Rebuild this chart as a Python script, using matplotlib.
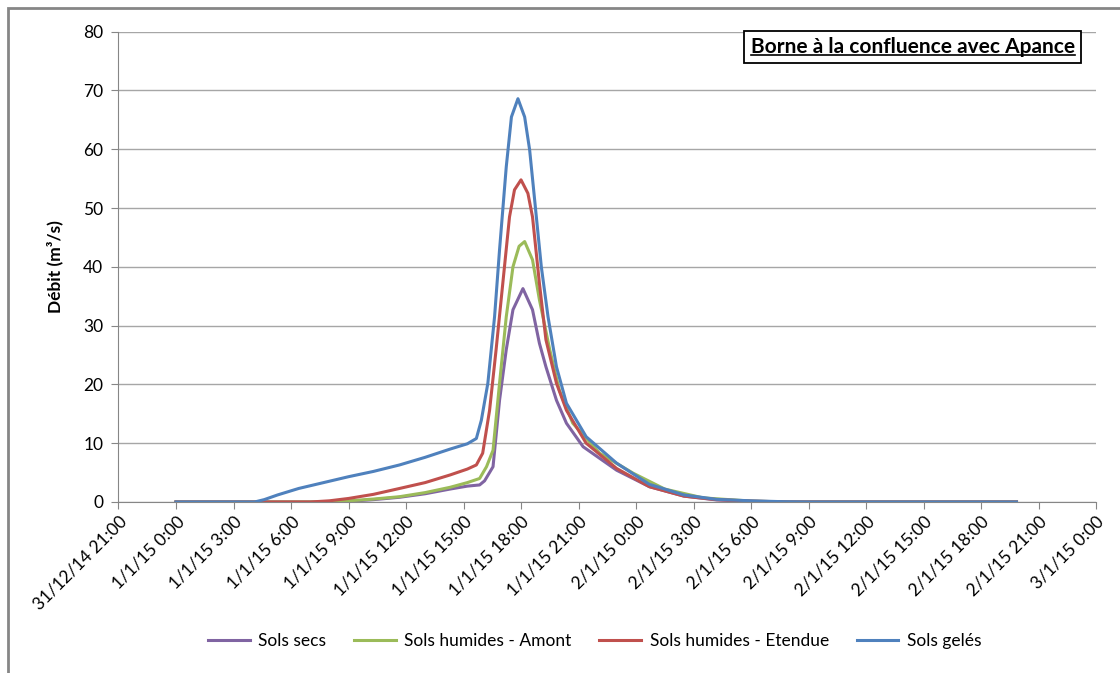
import matplotlib
matplotlib.use("Agg")
import matplotlib.pyplot as plt
from matplotlib.lines import Line2D
from matplotlib.patches import Rectangle

plt.rcParams['font.family'] = ['Lato', 'DejaVu Sans']

# heures depuis le 1/1/15 0:00, débits en m3/s
h_secs = [0, 8.0, 9.0, 10.3, 11.66, 13.0, 14.3, 15.2, 15.84, 16.1, 16.54, 16.88, 17.23,
          17.58, 18.1, 18.6, 18.96, 19.3, 19.85, 20.37, 21.24, 22.99, 24.7, 26.5, 28.2,
          30.0, 32.0, 43.85]
q_secs = [0, 0, 0.1, 0.4, 0.8, 1.4, 2.2, 2.7, 2.9, 3.6, 6.0, 17.3, 25.9,
          32.7, 36.3, 32.7, 27.0, 23.0, 17.3, 13.4, 9.4, 5.4, 2.6, 1.0, 0.35,
          0.1, 0, 0]

h_amont = [0, 7.5, 9.0, 10.3, 11.66, 13.0, 14.3, 15.2, 15.84, 16.2, 16.54, 16.88, 17.23,
           17.58, 17.9, 18.19, 18.6, 18.96, 19.5, 20.0, 20.7, 22.1, 23.85, 25.5, 27.5,
           30.0, 32.0, 43.85]
q_amont = [0, 0, 0.2, 0.5, 0.9, 1.6, 2.5, 3.3, 4.0, 6.0, 8.8, 20.2, 31.5,
           40.0, 43.5, 44.3, 41.2, 34.4, 25.9, 19.0, 13.4, 8.3, 4.9, 2.2, 0.7,
           0.15, 0, 0]

h_etendue = [0, 7.0, 8.0, 9.0, 10.3, 11.66, 13.0, 14.3, 15.2, 15.67, 16.0, 16.36, 16.7,
             17.05, 17.4, 17.66, 18.0, 18.36, 18.6, 18.96, 19.3, 19.85, 20.37, 21.4,
             22.99, 24.7, 26.5, 28.2, 30.0, 32.0, 43.85]
q_etendue = [0, 0, 0.2, 0.6, 1.3, 2.3, 3.3, 4.6, 5.6, 6.3, 8.3, 15.6, 25.9,
             37.2, 48.5, 53.1, 54.8, 52.5, 48.5, 37.2, 27.6, 20.2, 15.6, 10.0,
             5.7, 2.6, 1.0, 0.4, 0.15, 0, 0]

h_geles = [0, 4.1, 4.6, 5.3, 6.4, 7.7, 9.0, 10.3, 11.66, 13.0, 14.3, 15.2, 15.67, 15.93,
           16.27, 16.62, 16.88, 17.23, 17.5, 17.84, 18.19, 18.45, 18.8, 19.06, 19.41,
           19.85, 20.37, 21.4, 22.99, 24.7, 26.5, 28.2, 30.0, 31.7, 33.0, 43.85]
q_geles = [0, 0, 0.4, 1.2, 2.3, 3.3, 4.3, 5.2, 6.3, 7.6, 9.0, 9.9, 10.8, 13.9,
           20.2, 31.5, 42.9, 57.0, 65.5, 68.6, 65.5, 59.9, 48.5, 40.0, 31.5,
           23.0, 16.8, 11.1, 6.6, 3.0, 1.2, 0.45, 0.2, 0.05, 0, 0]

tick_hours = list(range(-3, 49, 3))
tick_labels = ["31/12/14 21:00", "1/1/15 0:00", "1/1/15 3:00", "1/1/15 6:00",
               "1/1/15 9:00", "1/1/15 12:00", "1/1/15 15:00", "1/1/15 18:00",
               "1/1/15 21:00", "2/1/15 0:00", "2/1/15 3:00", "2/1/15 6:00",
               "2/1/15 9:00", "2/1/15 12:00", "2/1/15 15:00", "2/1/15 18:00",
               "2/1/15 21:00", "3/1/15 0:00"]

series = [
    ("Sols secs", h_secs, q_secs, "#8064A2"),
    ("Sols humides - Amont", h_amont, q_amont, "#9BBB59"),
    ("Sols humides - Etendue", h_etendue, q_etendue, "#C0504D"),
    ("Sols gelés", h_geles, q_geles, "#4F81BD"),
]

fig = plt.figure(figsize=(11.2, 6.73), dpi=100)
ax = fig.add_axes([0.1058, 0.2541, 0.8728, 0.6988])

for name, hh, qq, col in series:
    ax.plot(hh, qq, color=col, lw=2.2, label=name, solid_joinstyle='round')

ax.set_xlim(-3, 48)
ax.set_ylim(0, 80)
ax.set_yticks(range(0, 81, 10))
ax.set_xticks(tick_hours)
ax.set_xticklabels(tick_labels, rotation=45, ha='right', rotation_mode='anchor')
ax.tick_params(axis='both', labelsize=12.5, colors='#000000', length=5, color='#868686')
ax.tick_params(axis='x', pad=3)
ax.tick_params(axis='y', pad=6)
ax.grid(axis='y', color='#a6a6a6', lw=1.0)
ax.set_axisbelow(True)
for s in ('top', 'right'):
    ax.spines[s].set_visible(False)
for s in ('left', 'bottom'):
    ax.spines[s].set_color('#868686')
ax.set_ylabel("Débit (m³/s)", fontsize=12.5, fontweight='bold', labelpad=14)

fig.legend(loc='center', bbox_to_anchor=(0.531, 0.0475), ncol=4, frameon=False,
           fontsize=12.5, handlelength=2.4, columnspacing=1.6, handletextpad=0.5)

# cadre gris autour du graphique
fig.patches.append(Rectangle((8 / 1120, -0.1), 1.2, 0.988 + 0.1, transform=fig.transFigure,
                             fill=False, ec='#868686', lw=2))

title = fig.text(0.815, 0.930, "Borne à la confluence avec Apance", ha='center', va='center',
                 fontsize=15, fontweight='bold',
                 bbox=dict(boxstyle='square,pad=0.3', fc='white', ec='black', lw=1.3))

# soulignement du titre
fig.canvas.draw()
bb = title.get_window_extent().transformed(fig.transFigure.inverted())
fig.add_artist(Line2D([bb.x0, bb.x1], [bb.y0 + 0.003, bb.y0 + 0.003],
                      transform=fig.transFigure, color='black', lw=1.2, zorder=10))

fig.savefig("out.png", dpi=100)
